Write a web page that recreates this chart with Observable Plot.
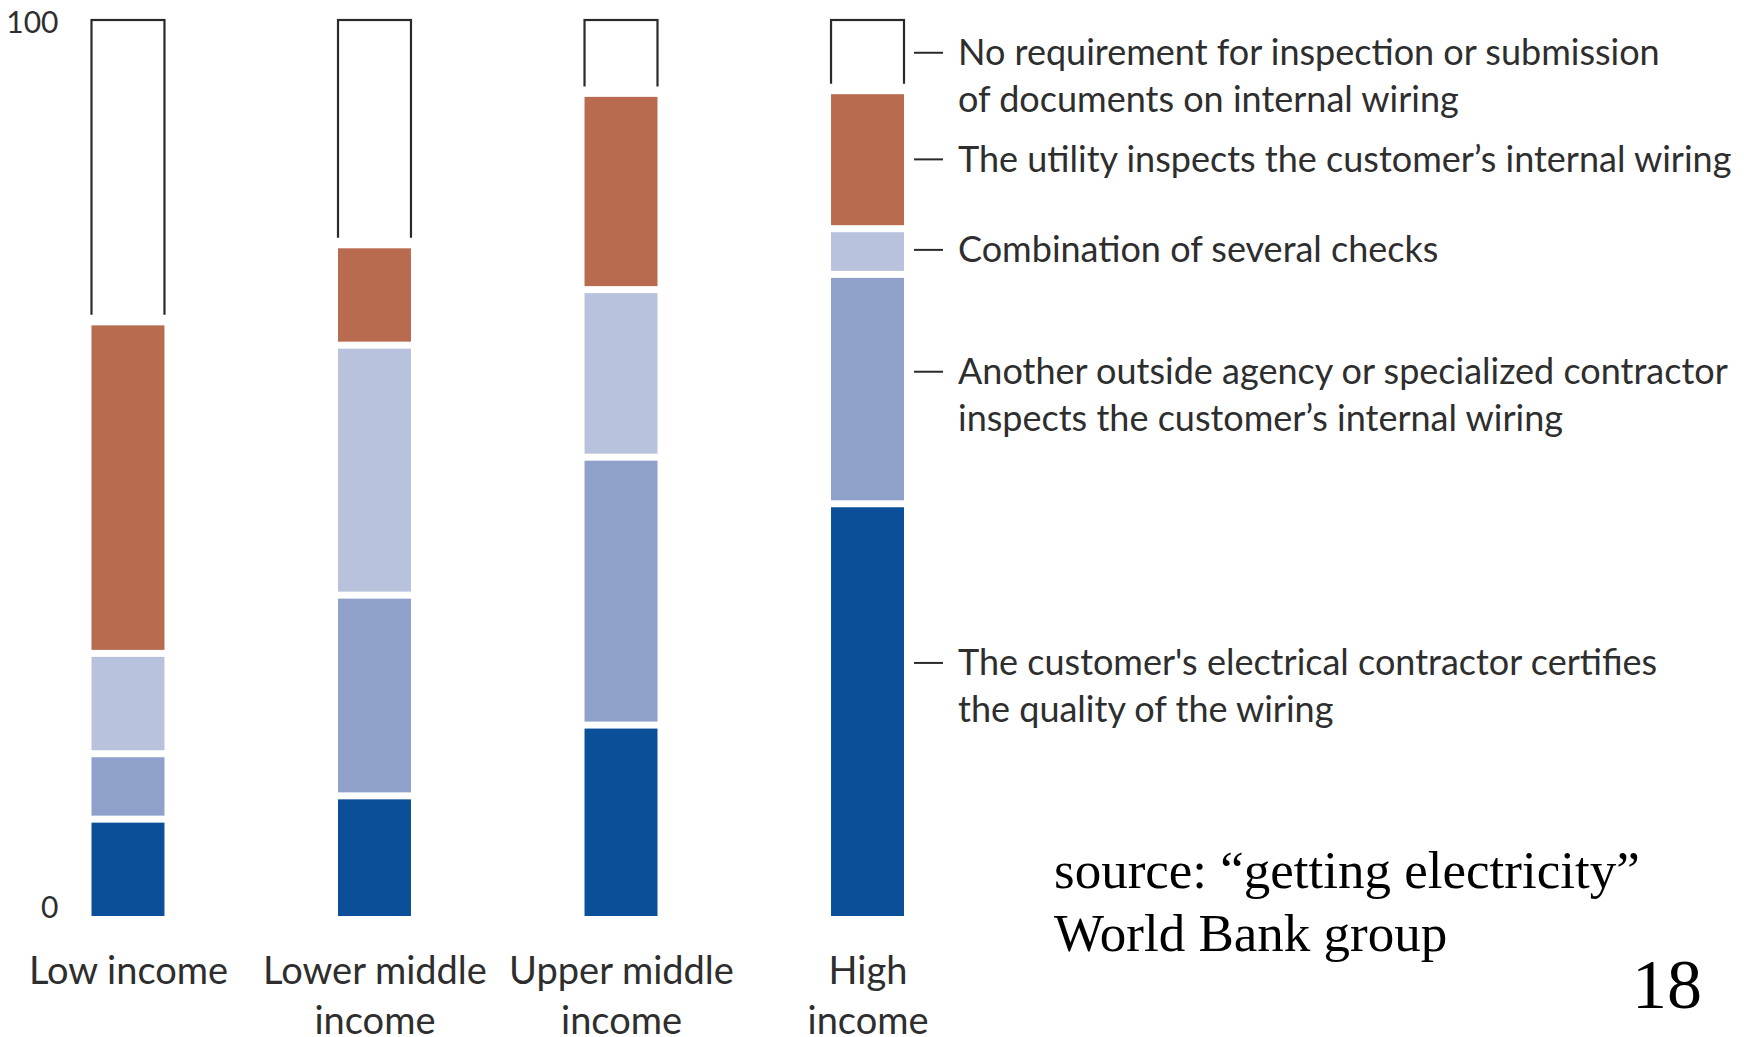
<!DOCTYPE html>
<html>
<head>
<meta charset="utf-8">
<script src="https://cdn.jsdelivr.net/npm/d3@7"></script>
<script src="https://cdn.jsdelivr.net/npm/@observablehq/plot@0.6"></script>
<style>
  html, body { margin: 0; padding: 0; background: #fff; }
  #wrap { position: relative; width: 1744px; height: 1037px; }
  #wrap svg { font-family: Lato, "Open Sans", sans-serif; color: #2e2e2e; }
  .source {
    position: absolute; left: 1054px; top: 839px;
    font-family: "Liberation Serif", "Times New Roman", serif;
    font-size: 53px; line-height: 63px; color: #000; white-space: nowrap;
  }
  .page {
    position: absolute; right: 42px; top: 950px;
    font-family: "Liberation Serif", "Times New Roman", serif;
    font-size: 70px; line-height: 70px; color: #000;
  }
</style>
</head>
<body>
<div id="wrap"></div>
<script>
// Income groups and their axis labels
const categories = ["Low income", "Lower middle income", "Upper middle income", "High income"];
const tickLabels = ["Low income", "Lower middle\nincome", "Upper middle\nincome", "High\nincome"];

// Share of economies (%) by how internal wiring is checked, stacked bottom to top
const contractorCertifies = [11.2, 13.8, 21.7, 46.4];
const outsideAgency       = [7.3, 22.4, 29.9, 25.6];
const combination         = [11.2, 27.9, 18.7, 5.1];
const utilityInspects     = [37.0, 11.2, 21.9, 15.4];
const noRequirement       = [33.3, 24.7, 7.8, 7.5];

const seriesKeys = ["contractor", "agency", "combination", "utility", "none"];
const seriesValues = [contractorCertifies, outsideAgency, combination, utilityInspects, noRequirement];
const seriesColors = ["#0a4f98", "#8fa0ca", "#b8c2dc", "#b86b4e", "#ffffff"];
const legendLabels = [
  "The customer's electrical contractor certifies\nthe quality of the wiring",
  "Another outside agency or specialized contractor\ninspects the customer\u2019s internal wiring",
  "Combination of several checks",
  "The utility inspects the customer\u2019s internal wiring",
  "No requirement for inspection or submission\nof documents on internal wiring"
];

// Build stacked rows (y1..y2 per segment)
const rows = [];
categories.forEach((c, i) => {
  let acc = 0;
  seriesKeys.forEach((s, j) => {
    const v = seriesValues[j][i];
    rows.push({category: c, series: s, y1: acc, y2: acc + v});
    acc += v;
  });
});
const colorOf = Object.fromEntries(seriesKeys.map((s, j) => [s, seriesColors[j]]));
const boxRows = rows.filter(d => d.series === "none");
const filledRows = rows.filter(d => d.series !== "none");

// Legend labels sit beside the high-income bar; anchors in percent units
const legendAnchors = [28.3, 60.8, 74.4, 84.5, 96.4];
const legendRows = seriesKeys.map((s, j) => ({label: legendLabels[j], at: legendAnchors[j]}));

const chart = Plot.plot({
  width: 1744,
  height: 1037,
  marginTop: 20,
  marginBottom: 121,
  marginLeft: 70,
  marginRight: 818.5,
  x: {domain: categories, range: [70, 925.5], paddingInner: 0.704, paddingOuter: 0.0872, round: false},
  y: {domain: [0, 100], range: [916, 20]},
  marks: [
    // open box for "no requirement"
    Plot.barY(boxRows, {x: "category", y1: "y1", y2: "y2", fill: "white", stroke: "#2a2a2a", strokeWidth: 2.2}),
    // white band hiding the box's bottom edge
    Plot.tickY(boxRows, {x: "category", y: "y1", stroke: "white", strokeWidth: 8, insetLeft: -4, insetRight: -4}),
    // coloured segments, separated by a white gap
    Plot.barY(filledRows, {x: "category", y1: "y1", y2: "y2", fill: d => colorOf[d.series], insetTop: 7}),
    // legend dashes and labels
    Plot.tickY(legendRows, {x: () => "High income", y: "at", dx: 83, insetRight: 44, stroke: "#2a2a2a", strokeWidth: 2}),
    Plot.text(legendRows, {
      x: () => "High income", y: "at", text: "label", dx: 90, dy: -21,
      textAnchor: "start", lineAnchor: "top", lineHeight: 1.3, fontSize: 36, fill: "#2e2e2e"
    }),
    Plot.axisY({ticks: [100], tickSize: 0, tickPadding: 12, fontSize: 30, dy: 3, label: null}),
    Plot.axisY({ticks: [0], tickSize: 0, tickPadding: 12, fontSize: 30, dy: -8, label: null}),
    Plot.axisX({
      tickSize: 0, tickPadding: 32, fontSize: 38, lineHeight: 1.32, label: null,
      tickFormat: d => tickLabels[categories.indexOf(d)]
    })
  ]
});

const wrap = document.getElementById("wrap");
wrap.appendChild(chart);

const src = document.createElement("div");
src.className = "source";
src.innerHTML = "source: \u201cgetting electricity\u201d<br>World Bank group";
wrap.appendChild(src);

const pg = document.createElement("div");
pg.className = "page";
pg.textContent = "18";
wrap.appendChild(pg);
</script>
</body>
</html>
